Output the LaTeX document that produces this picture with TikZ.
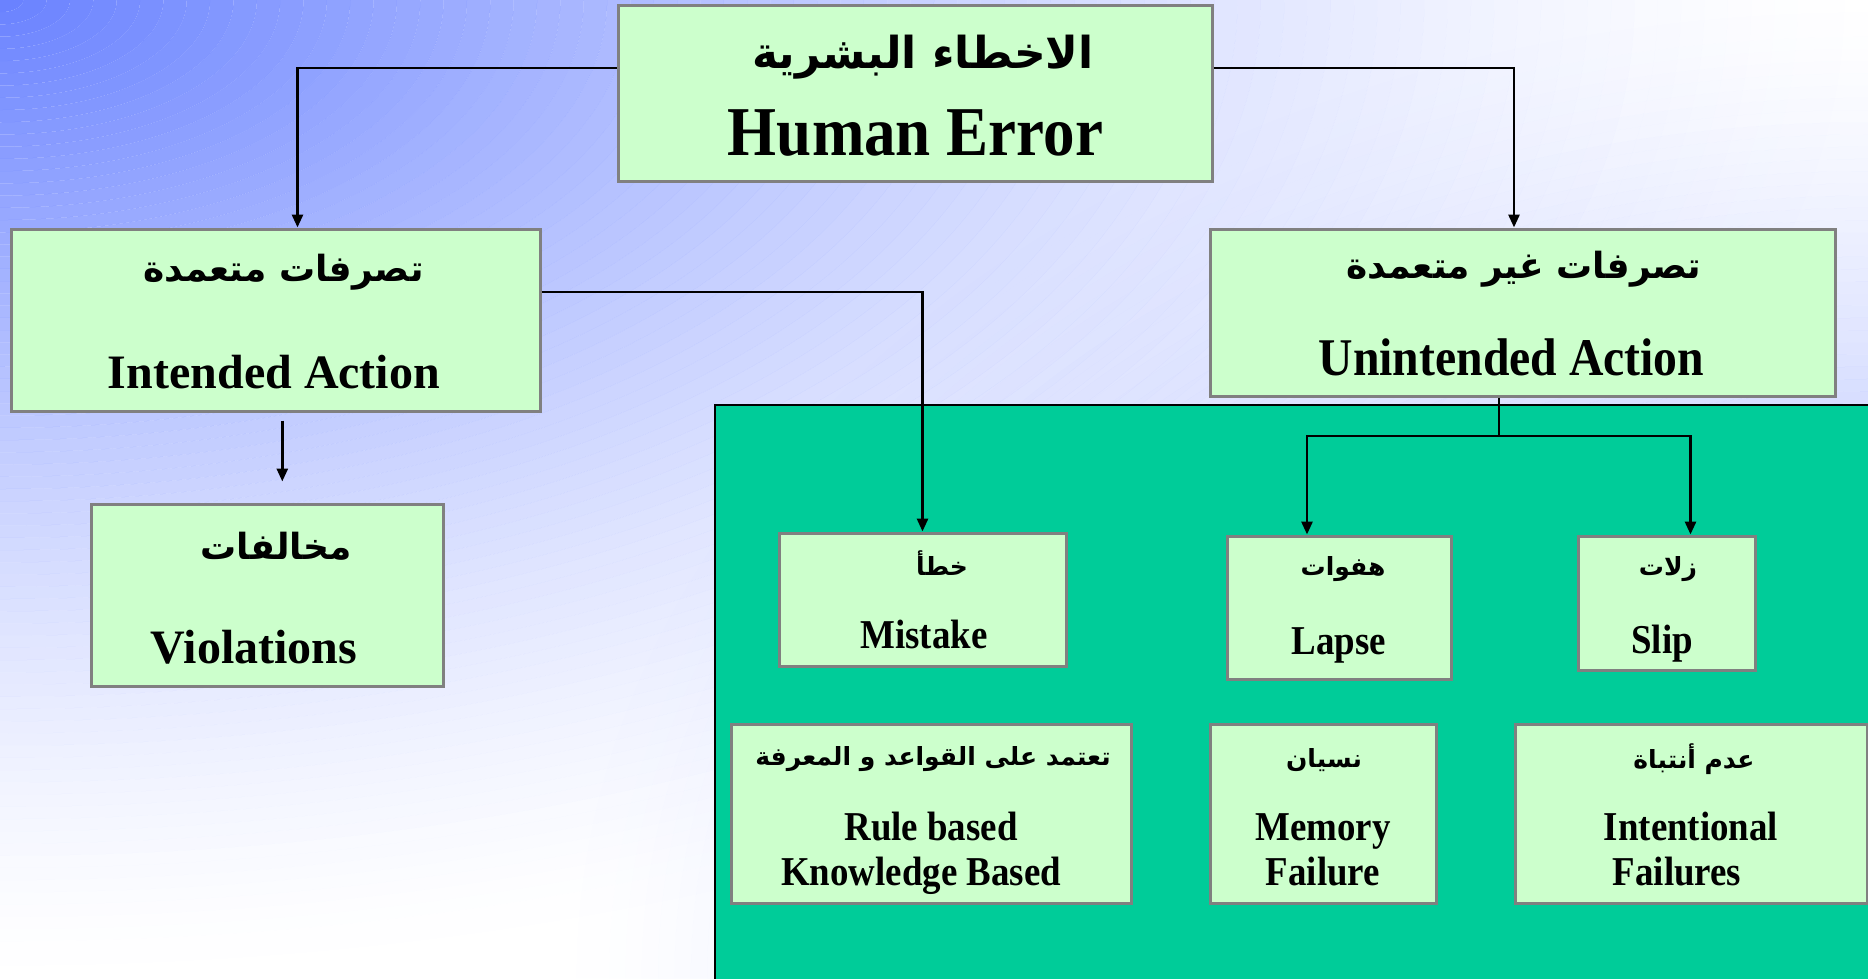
\documentclass[tikz,border=0pt]{standalone}
\usepackage{fontspec}
\usetikzlibrary{arrows.meta,positioning}
\TeXXeTstate=1
\newfontfamily\arfont[Script=Arabic]{DejaVu Sans}
\newfontfamily\enfont[FakeStretch=0.9]{Liberation Serif}
\newfontfamily\enwide{Liberation Serif}
\definecolor{bgblue}{RGB}{105,130,255}
\definecolor{boxgreen}{RGB}{204,255,204}
\definecolor{boxgray}{RGB}{128,128,128}
\definecolor{panelgreen}{RGB}{0,204,153}
\tikzset{
  ebox/.style={draw=boxgray,fill=boxgreen,line width=3pt,inner sep=0pt},
  artxt/.style={inner sep=0pt,anchor=center},
  arbig/.style={artxt,font=\arfont\bfseries\fontsize{44}{48}\selectfont},
  armid/.style={artxt,font=\arfont\bfseries\fontsize{36}{40}\selectfont},
  arsmall/.style={artxt,font=\arfont\bfseries\fontsize{25}{29}\selectfont},
  entxt/.style={inner sep=0pt,anchor=base,align=center},
  enbig/.style={entxt,font=\enfont\bfseries\fontsize{70}{76}\selectfont},
  enmid/.style={entxt,font=\enfont\bfseries\fontsize{53}{58}\selectfont},
  enwidemid/.style={entxt,font=\enwide\bfseries\fontsize{48}{52}\selectfont},
  ensmall/.style={entxt,font=\enfont\bfseries\fontsize{41}{45}\selectfont},
  conn/.style={line width=2.8pt,black},
  carrow/.style={conn,-{Triangle[length=13pt,width=11pt]}},
}

\begin{document}
\begin{tikzpicture}[x=1pt,y=-1pt]
  \useasboundingbox (0,0) rectangle (1868,978);
  % background: white, fading to blue in the top-left and bottom-right corners
  \begin{scope}
    \clip (0,0) rectangle (1868,978);
    \fill[white] (0,0) rectangle (1868,978);
    \foreach \cx/\cy/\rx in {0/0/1868,1868/978/1308} {
      \foreach \i in {1,...,80} {
        \pgfmathsetmacro\ro{\i/80}
        \pgfmathsetmacro\ri{max(\i-1,0.01)/80}
        \pgfmathsetmacro\op{(1-(\i-0.5)/80)^1.5}
        \fill[bgblue,opacity=\op,even odd rule]
          (\cx,\cy) ellipse [x radius=\ro*\rx pt, y radius=\ro*978pt]
          (\cx,\cy) ellipse [x radius=\ri*\rx pt, y radius=\ri*978pt];
      }
    }
  \end{scope}
  \filldraw[fill=panelgreen,draw=black,line width=2.5pt] (715,405) rectangle (1890,1000);

  % connectors
  \coordinate (fork) at (1499,436);
  \node[ebox,minimum width=594pt,minimum height=176pt] (he) at (915,93) {};
  \node[ebox,minimum width=529pt,minimum height=182pt] (ia) at (275.5,320) {};
  \node[ebox,minimum width=625pt,minimum height=167pt] (ua) at (1522.5,312.5) {};
  \draw[carrow] ([yshift=25pt]he.west) -| ([xshift=22pt]ia.north);
  \draw[carrow] ([yshift=25pt]he.east) -| ([xshift=-8.5pt]ua.north);
  \draw[conn] ([xshift=-23.5pt]ua.south) -- (fork);

  % boxes
  \node[ebox,minimum width=352pt,minimum height=182pt] (vi) at (267,595) {};
  \node[ebox,minimum width=287pt,minimum height=133pt] (mi) at (922.5,599.5) {};
  \node[ebox,minimum width=224pt,minimum height=143pt] (la) at (1339,607.5) {};
  \node[ebox,minimum width=177pt,minimum height=134pt] (sl) at (1666.5,603) {};
  \node[ebox,minimum width=400pt,minimum height=179pt] (rk) at (931,813.5) {};
  \node[ebox,minimum width=226pt,minimum height=179pt] (mf) at (1323,813.5) {};
  \node[ebox,minimum width=352pt,minimum height=179pt] (if) at (1691,813.5) {};

  \draw[carrow] ([yshift=28pt]ia.east) -| (mi.north);
  \draw[carrow,shorten <=8pt,shorten >=21pt] ([xshift=6.8pt]ia.south) -- ([xshift=6.8pt]ia.south |- vi.north);
  \draw[carrow] (fork) -| ([xshift=-32pt]la.north);
  \draw[carrow] (fork) -| ([xshift=24pt]sl.north);

  % texts
  \node[arbig] (heAr) at (923,57) {\beginR الاخطاء البشرية\endR};
  \node[enbig] (heEn) at (915.5,155) {Human Error};
  \node[armid] (iaAr) at (283.5,272) {\beginR تصرفات متعمدة\endR};
  \node[enwidemid] (iaEn) at (274,388) {Intended Action};
  \node[armid] (uaAr) at (1524,269) {\beginR تصرفات غير متعمدة\endR};
  \node[enmid] (uaEn) at (1511.5,375) {Unintended Action};
  \node[armid] (viAr) at (276,546) {\beginR مخالفات\endR};
  \node[enwidemid] (viEn) at (254,663) {Violations};
  \node[arsmall] (miAr) at (942,563) {\beginR خطأ\endR};
  \node[ensmall] (miEn) at (924,648) {Mistake};
  \node[arsmall] (laAr) at (1343,569) {\beginR هفوات\endR};
  \node[ensmall] (laEn) at (1339,654) {Lapse};
  \node[arsmall] (slAr) at (1668,569) {\beginR زلات\endR};
  \node[ensmall] (slEn) at (1662,653) {Slip};
  \node[arsmall] (rkAr) at (933,759) {\beginR تعتمد على القواعد و المعرفة\endR};
  \node[ensmall] (rkEn) at (931,885) {Rule based\\Knowledge Based\kern20pt};
  \node[arsmall] (mfAr) at (1324,760) {\beginR نسيان\endR};
  \node[ensmall] (mfEn) at (1323,885) {Memory\\Failure};
  \node[arsmall] (ifAr) at (1694,759) {\beginR عدم أنتباة\endR};
  \node[ensmall] (ifEn) at (1691,885) {Intentional\\Failures\kern28pt};
\end{tikzpicture}
\end{document}
